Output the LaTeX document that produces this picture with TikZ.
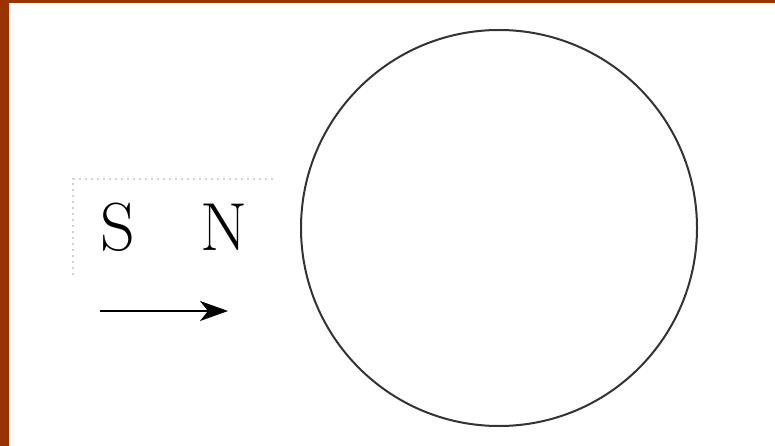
\documentclass[tikz,border=0pt]{standalone}
\usetikzlibrary{arrows.meta}
\definecolor{framebrown}{HTML}{993300}
\definecolor{ringgray}{HTML}{333333}
\tikzset{
  polelabel/.style={font=\fontsize{68}{68}\selectfont, inner sep=0pt, anchor=base},
  magnetbox/.style={dash pattern=on 2pt off 4pt, gray!35, line width=2pt},
}
\begin{document}
\begin{tikzpicture}[x=1pt, y=-1pt]
  \useasboundingbox (0,0) rectangle (775,446);

  % --- frame ---
  \fill[framebrown] (0,0) rectangle (9,446);
  \fill[framebrown] (0,0) rectangle (775,3);

  % --- magnet outline (partly shown) ---
  \draw[magnetbox] (73,275) -- (73,179) -- (276,179);

  % --- poles ---
  \node[polelabel] (south) at (118,250) {S};
  \node[polelabel] (north) at (224,250) {N};

  % --- direction of motion ---
  \coordinate (start) at (100,311);
  \coordinate (tip) at (228,311);
  \draw[-{Stealth[length=28pt, width=20pt, inset=8pt]}, line width=2pt] (start) -- (tip);

  % --- coil ---
  \node[draw=ringgray, line width=2pt, circle, minimum size=396pt, inner sep=0pt] (coil) at (499,228) {};

\end{tikzpicture}
\end{document}
